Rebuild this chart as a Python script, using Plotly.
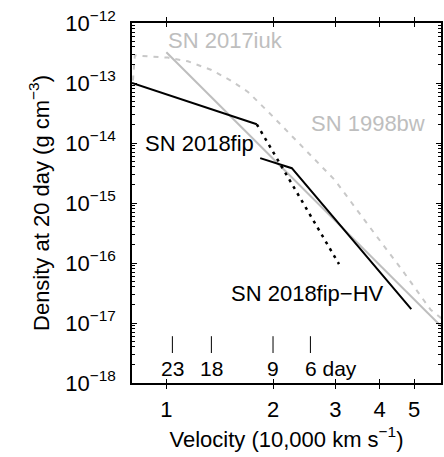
import numpy as np
import plotly.graph_objects as go

# SN 2018fip (solid, inner part) and its steep dotted continuation
fip_v = [0.80, 1.80]
fip_rho = [1.0e-13, 2.05e-14]
fip_dot_v = [1.80, 3.07]
fip_dot_rho = [2.05e-14, 9.6e-17]

# SN 2018fip-HV
hv_v = [1.84, 2.26, 4.91]
hv_rho = [5.6e-15, 3.8e-15, 1.7e-17]

# SN 2017iuk
iuk_v = [1.00, 5.97]
iuk_rho = [3.25e-13, 8.7e-18]

# SN 1998bw (dashed)
bw_v = [0.805, 0.815, 0.91, 1.01, 1.15, 1.34, 1.52, 1.70, 1.95, 2.36, 2.99, 3.70, 4.60, 5.57, 5.97]
bw_rho = [1.1e-13, 2.9e-13, 2.75e-13, 2.65e-13, 2.3e-13, 1.65e-13, 1.1e-13, 7.1e-14,
          3.2e-14, 1.0e-14, 2.4e-15, 4.4e-16, 8.0e-17, 1.66e-17, 1.2e-17]

# day markers
day_v = [1.04, 1.34, 2.0, 2.55]
day_labels = ["23", "18", "9", "6 day"]

x_ticks = [1, 2, 3, 4, 5]
y_exps = [-18, -17, -16, -15, -14, -13, -12]
y_ticks = [10.0 ** e for e in y_exps]
y_ticktext = ["10<sup>\u2212%d</sup>" % (-e) for e in y_exps]
y_minor = [m * 10.0 ** e for e in range(-18, -12) for m in range(2, 10)]

BLACK = "black"
GRAY = "rgb(190,190,190)"
GRAY_D = "rgb(200,200,200)"
FONT = "Liberation Sans, Arial, Helvetica, sans-serif"

fig = go.Figure()
fig.add_trace(go.Scatter(x=bw_v, y=bw_rho, mode="lines",
                         line=dict(color=GRAY_D, width=2, dash="5px,6px")))
fig.add_trace(go.Scatter(x=iuk_v, y=iuk_rho, mode="lines",
                         line=dict(color=GRAY, width=2)))
fig.add_trace(go.Scatter(x=fip_v, y=fip_rho, mode="lines",
                         line=dict(color=BLACK, width=2)))
fig.add_trace(go.Scatter(x=fip_dot_v, y=fip_dot_rho, mode="lines",
                         line=dict(color=BLACK, width=2.5, dash="3px,5px")))
fig.add_trace(go.Scatter(x=hv_v, y=hv_rho, mode="lines",
                         line=dict(color=BLACK, width=2)))

# day tick marks (on the overlay axis that carries the minor ticks; same range)
mx, my = [], []
for v in day_v:
    mx += [v, v, None]
    my += [10 ** -17.22, 10 ** -17.5, None]
fig.add_trace(go.Scatter(x=mx, y=my, mode="lines", line=dict(color=BLACK, width=1),
                         yaxis="y2"))

ann = []
for v, lab in zip(day_v, day_labels):
    if lab.endswith("day"):
        ann.append(dict(x=np.log10(v), y=-17.75, text=lab, showarrow=False,
                        xanchor="left", yanchor="middle", xshift=-7,
                        font=dict(size=21, color=BLACK, family=FONT)))
    else:
        ann.append(dict(x=np.log10(v), y=-17.75, text=lab, showarrow=False,
                        xanchor="center", yanchor="middle",
                        font=dict(size=21, color=BLACK, family=FONT)))

labels = [
    ("SN 2017iuk", 1.0, 5.2e-13, GRAY),
    ("SN 1998bw", 2.52, 2.1e-14, GRAY),
    ("SN 2018fip", 0.857, 1.0e-14, BLACK),
    ("SN 2018fip\u2212HV", 1.506, 3.1e-17, BLACK),
]
for t, x, y, c in labels:
    ann.append(dict(x=np.log10(x), y=np.log10(y), text=t, showarrow=False,
                    xanchor="left", yanchor="middle",
                    font=dict(size=22, color=c, family=FONT)))

fig.update_layout(
    width=444, height=457,
    margin=dict(l=132, r=1, t=23, b=74),
    plot_bgcolor="white", paper_bgcolor="white",
    showlegend=False,
    font=dict(family=FONT, size=22, color=BLACK),
    annotations=ann,
    yaxis2=dict(
        type="log", range=[-18, -12], overlaying="y", side="left",
        tickmode="array", tickvals=y_minor, showticklabels=False,
        ticks="inside", ticklen=3, tickwidth=1, tickcolor=BLACK,
        showline=True, linecolor=BLACK, linewidth=1.5, mirror="allticks",
        showgrid=False, zeroline=False,
    ),
)
fig.update_xaxes(
    type="log", range=[np.log10(0.8), 0.775],
    tickvals=x_ticks, ticktext=[str(t) for t in x_ticks],
    ticks="inside", ticklen=4, tickwidth=1.2, tickcolor=BLACK,
    showline=True, linecolor=BLACK, linewidth=1.5, mirror="allticks",
    showgrid=False, zeroline=False, ticklabelstandoff=6,
    tickfont=dict(size=22),
    title=dict(text="Velocity (10,000 km s<sup>\u22121</sup>)", font=dict(size=22), standoff=10),
)
fig.update_yaxes(
    selector=dict(overlaying=None),
    type="log", range=[-18, -12], tickmode="array", tickvals=y_ticks, ticktext=y_ticktext,
    ticks="inside", ticklen=5, tickwidth=1.2, tickcolor=BLACK,
    showline=True, linecolor=BLACK, linewidth=1.5, mirror="allticks",
    showgrid=False, zeroline=False, ticklabelstandoff=10,
    tickfont=dict(size=22),
    title=dict(text="Density at 20 day (g cm<sup>\u22123</sup>)", font=dict(size=22), standoff=10),
)
fig.layout.yaxis2.title = None

fig.write_html("out.html")
